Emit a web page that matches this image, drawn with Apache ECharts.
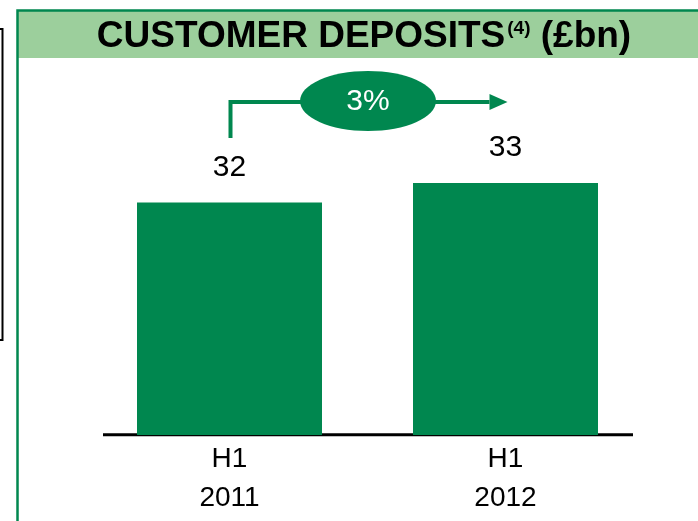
<!DOCTYPE html>
<html>
<head>
<meta charset="utf-8">
<script src="https://cdn.jsdelivr.net/npm/echarts@6/dist/echarts.min.js"></script>
<style>
  html, body { margin: 0; padding: 0; background: #fff; }
  #chart { width: 698px; height: 521px; }
</style>
</head>
<body>
<div id="chart"></div>
<script>
// chart data
const categories = ['H1\n2011', 'H1\n2012']
const deposits = [32, 33]
const growthLabel = '3%'

const GREEN = '#00874F'
const FONT = '"Liberation Sans", Arial, sans-serif'

const chart = echarts.init(document.getElementById('chart'))

chart.setOption({
  animation: false,
  grid: { left: 91.5, right: 54.5, top: 183, bottom: 86 },
  xAxis: {
    type: 'category',
    data: categories,
    axisLine: { show: false },
    axisTick: { show: false },
    axisLabel: {
      color: '#000',
      fontFamily: FONT,
      fontSize: 28,
      lineHeight: 39,
      margin: 5
    }
  },
  yAxis: {
    type: 'value',
    min: 20,
    max: 33,
    show: false,
    splitLine: { show: false }
  },
  series: [{
    type: 'bar',
    data: deposits,
    barWidth: 185,
    itemStyle: { color: GREEN },
    label: {
      show: true,
      position: 'top',
      distance: 20,
      color: '#000',
      fontFamily: FONT,
      fontSize: 30
    }
  }]
})

// decoration: panel frame, title band, axis line, growth arrow
const x0 = chart.convertToPixel({ xAxisIndex: 0 }, 0)
const x1 = chart.convertToPixel({ xAxisIndex: 0 }, 1)
const arrowY = 102

chart.setOption({
  graphic: [
    // edge of the box on the left
    { type: 'rect', shape: { x: -10, y: 29, width: 12.5, height: 311 },
      style: { fill: 'none', stroke: '#000', lineWidth: 2 } },
    // panel header
    { type: 'rect', shape: { x: 18, y: 11, width: 700, height: 47 },
      style: { fill: '#9CCF9C' } },
    { type: 'rect', shape: { x: 17.5, y: 10.5, width: 720, height: 560 },
      style: { fill: 'none', stroke: GREEN, lineWidth: 2.5 } },
    { type: 'text', x: 364, y: 37,
      style: {
        text: '{a|CUSTOMER DEPOSITS}{s|(4)}{a| (£bn)}',
        align: 'center', verticalAlign: 'middle',
        rich: {
          a: { fontFamily: FONT, fontSize: 37, fontWeight: 'bold', fill: '#000' },
          s: { fontFamily: FONT, fontSize: 19, fontWeight: 'bold', fill: '#000', padding: [0, 0, 16, 2] }
        }
      } },
    // x axis line
    { type: 'line', shape: { x1: 103, y1: 434.7, x2: 633, y2: 434.7 },
      style: { stroke: '#000', lineWidth: 3 } },
    // growth arrow
    { type: 'polyline', shape: { points: [[x0 + 1, 138], [x0 + 1, arrowY], [x1 - 16, arrowY]] },
      style: { fill: 'none', stroke: GREEN, lineWidth: 4 } },
    { type: 'polygon', shape: { points: [[x1 - 16, arrowY - 8], [x1 + 2, arrowY], [x1 - 16, arrowY + 8]] },
      style: { fill: GREEN } },
    { type: 'ellipse', shape: { cx: 368, cy: 101, rx: 68, ry: 30 },
      style: { fill: GREEN } },
    { type: 'text', x: 368, y: 102,
      style: { text: growthLabel, fill: '#fff', fontFamily: FONT, fontSize: 30,
        align: 'center', verticalAlign: 'middle' } }
  ]
})
</script>
</body>
</html>
